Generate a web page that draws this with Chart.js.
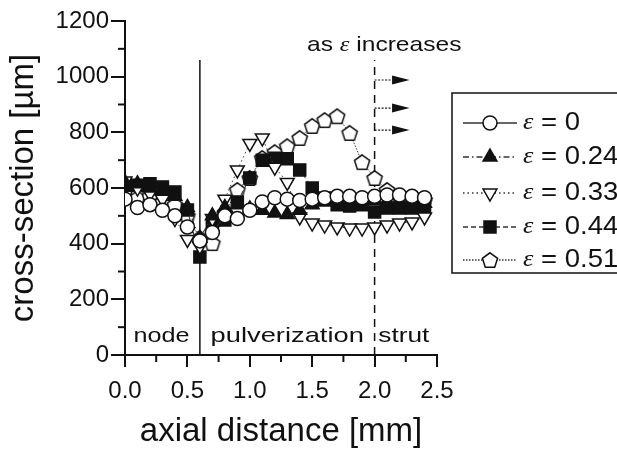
<!DOCTYPE html>
<html>
<head>
<meta charset="utf-8">
<script src="https://cdn.jsdelivr.net/npm/chart.js@4.4.0/dist/chart.umd.min.js"></script>
<style>
body { margin: 0; background: #fff; }
</style>
</head>
<body>
<canvas id="chart" width="617" height="452"></canvas>
<script>
// axial distance [mm]
var distance = [0.0, 0.1, 0.2, 0.3, 0.4, 0.5, 0.6, 0.7, 0.8, 0.9, 1.0, 1.1, 1.2,
                1.3, 1.4, 1.5, 1.6, 1.7, 1.8, 1.9, 2.0, 2.1, 2.2, 2.3, 2.4];

// cross-section [um] for each strain
var eps0    = [560, 530, 540, 520, 500, 460, 410, 440, 500, 490, 520, 550, 565,
               560, 555, 560, 565, 570, 570, 565, 570, 575, 575, 570, 565];
var eps024  = [620, 615, 600, 590, 570, 530, 420, 500, 530, 540, 525, 520, 510,
               505, 520, 540, 550, 555, 555, 560, 555, 550, 550, 555, 545];
var eps033  = [625, 600, 580, 560, 490, 415, 390, 490, 560, 665, 760, 780, 675,
               620, 496, 474, 467, 460, 456, 456, 460, 467, 474, 478, 496];
var eps044  = [610, 610, 615, 604, 586, 521, 352, 470, 485, 550, 636, 700, 707,
               705, 665, 600, 564, 540, 535, 540, 514, 528, 528, 528, 528];
var eps051  = [590, 565, 570, 550, 540, 500, 420, 402, 510, 593, 636, 708, 729,
               750, 780, 823, 844, 858, 798, 693, 636, 593, 568, 568, 557];

var strainLabels = ['0', '0.24', '0.33', '0.44', '0.51'];
var yTickStep = 200;
var xTickStep = 0.5;

var ink = '#111';
var sans = '"Liberation Sans", Arial, sans-serif';

function makePentagon(r) {
  var s = Math.ceil(r * 2 + 4);
  var c = document.createElement('canvas');
  c.width = s; c.height = s;
  var g = c.getContext('2d');
  g.beginPath();
  for (var i = 0; i < 5; i++) {
    var a = -Math.PI / 2 + i * 2 * Math.PI / 5;
    var px = s / 2 + r * Math.cos(a);
    var py = s / 2 + r * Math.sin(a) + r * 0.1;
    if (i === 0) g.moveTo(px, py); else g.lineTo(px, py);
  }
  g.closePath();
  g.fillStyle = '#fff';
  g.fill();
  g.lineWidth = 1.5;
  g.strokeStyle = ink;
  g.stroke();
  return c;
}
var pentagon = makePentagon(8);

function pts(ys) {
  return distance.map(function (x, i) { return { x: x, y: ys[i] }; });
}

function series(label, ys, style, fill, dash, radius, rot) {
  return {
    label: label,
    data: pts(ys),
    borderColor: '#333',
    borderWidth: 1,
    borderDash: dash,
    pointStyle: style,
    pointRadius: radius,
    pointRotation: rot || 0,
    pointBackgroundColor: fill,
    pointBorderColor: ink,
    pointBorderWidth: 1.5,
    tension: 0
  };
}

var datasets = [
  series(strainLabels[0], eps0, 'circle', '#fff', [], 7),
  series(strainLabels[1], eps024, 'triangle', ink, [6, 3, 1.5, 3], 8),
  series(strainLabels[2], eps033, 'triangle', '#fff', [1.5, 3], 8, 180),
  series(strainLabels[3], eps044, 'rect', ink, [5, 3], 8.5),
  series(strainLabels[4], eps051, pentagon, '#fff', [1.5, 1.5], 8)
];

// text drawn a little wider than the font, as in the scanned figure
function wideText(ctx, parts, x, y, sx, align) {
  ctx.save();
  ctx.translate(x, y);
  ctx.scale(sx, 1);
  ctx.textBaseline = 'middle';
  ctx.textAlign = 'left';
  var total = 0;
  parts.forEach(function (p) { ctx.font = p[1]; total += ctx.measureText(p[0]).width; });
  var cx = align === 'center' ? -total / 2 : 0;
  parts.forEach(function (p) {
    ctx.font = p[1];
    ctx.fillText(p[0], cx, 0);
    cx += ctx.measureText(p[0]).width;
  });
  ctx.restore();
}

var extras = {
  id: 'extras',
  beforeDatasetsDraw: function (chart) {
    var ctx = chart.ctx, xs = chart.scales.x, ys = chart.scales.y;
    ctx.save();
    ctx.strokeStyle = ink;
    // node / pulverization boundary
    ctx.lineWidth = 1.5;
    ctx.beginPath();
    ctx.moveTo(xs.getPixelForValue(0.6), ys.getPixelForValue(0));
    ctx.lineTo(xs.getPixelForValue(0.6), ys.getPixelForValue(1060));
    ctx.stroke();
    // pulverization / strut boundary
    ctx.setLineDash([8, 6]);
    ctx.beginPath();
    ctx.moveTo(xs.getPixelForValue(2.0), ys.getPixelForValue(0));
    ctx.lineTo(xs.getPixelForValue(2.0), ys.getPixelForValue(1060));
    ctx.stroke();
    // arrows
    [988, 887, 808].forEach(function (v) {
      var py = ys.getPixelForValue(v);
      var x0 = xs.getPixelForValue(2.0), x1 = xs.getPixelForValue(2.14), x2 = xs.getPixelForValue(2.28);
      ctx.setLineDash([2, 1.5]);
      ctx.lineWidth = 1.2;
      ctx.beginPath();
      ctx.moveTo(x0, py); ctx.lineTo(x1, py);
      ctx.stroke();
      ctx.setLineDash([]);
      ctx.fillStyle = ink;
      ctx.beginPath();
      ctx.moveTo(x1, py - 4.5); ctx.lineTo(x2, py); ctx.lineTo(x1, py + 4.5);
      ctx.closePath();
      ctx.fill();
    });
    // minor ticks
    ctx.setLineDash([]);
    ctx.lineWidth = 2;
    for (var v = 100; v < 1200; v += 200) {
      var py = ys.getPixelForValue(v);
      ctx.beginPath(); ctx.moveTo(xs.left - 7, py); ctx.lineTo(xs.left, py); ctx.stroke();
    }
    for (var u = 0.25; u < 2.5; u += 0.5) {
      var px = xs.getPixelForValue(u);
      ctx.beginPath(); ctx.moveTo(px, ys.bottom); ctx.lineTo(px, ys.bottom + 7); ctx.stroke();
    }
    ctx.restore();
  },
  afterDraw: function (chart) {
    var ctx = chart.ctx, xs = chart.scales.x, ys = chart.scales.y;
    ctx.save();
    ctx.fillStyle = ink;
    var f21 = '21px ' + sans;
    var by = ys.getPixelForValue(0) - 19;
    wideText(ctx, [['node', f21]], xs.getPixelForValue(0.3) - 1, by, 1.2, 'center');
    wideText(ctx, [['pulverization', f21]], xs.getPixelForValue(1.3), by, 1.3, 'center');
    wideText(ctx, [['strut', f21]], xs.getPixelForValue(2.25) - 2, by, 1.25, 'center');

    wideText(ctx, [['as ', f21], ['\u03b5', 'italic 21px "Liberation Serif", serif'], [' increases', f21]],
      307, 45, 1.17, 'left');

    // legend
    ctx.strokeStyle = ink;
    ctx.lineWidth = 1.5;
    ctx.strokeRect(452, 93, 200, 180);
    var rowY = [123, 157, 193, 227, 260];
    chart.data.datasets.forEach(function (ds, i) {
      var y = rowY[i];
      ctx.save();
      ctx.strokeStyle = '#333';
      ctx.lineWidth = 1.5;
      ctx.setLineDash(ds.borderDash);
      ctx.beginPath(); ctx.moveTo(463, y); ctx.lineTo(517, y); ctx.stroke();
      ctx.setLineDash([]);
      ctx.fillStyle = ds.pointBackgroundColor;
      ctx.strokeStyle = ds.pointBorderColor;
      ctx.lineWidth = ds.pointBorderWidth;
      Chart.helpers.drawPoint(ctx, {
        pointStyle: ds.pointStyle, radius: ds.pointRadius,
        rotation: ds.pointRotation, borderWidth: ds.pointBorderWidth
      }, 490, y);
      ctx.restore();
      ctx.fillStyle = ink;
      wideText(ctx, [['\u03b5', 'italic 24px "Liberation Serif", serif'], [' = ' + ds.label, '25px ' + sans]],
        523, y, 1.1, 'left');
    });
    ctx.restore();
  }
};

new Chart(document.getElementById('chart'), {
  type: 'line',
  data: { datasets: datasets },
  options: {
    responsive: false,
    animation: false,
    devicePixelRatio: 1,
    layout: { padding: { left: 0, right: 180, top: 21, bottom: 0 } },
    plugins: { legend: { display: false }, tooltip: { enabled: false } },
    scales: {
      x: {
        type: 'linear',
        min: 0, max: 2.5,
        ticks: {
          stepSize: xTickStep, color: ink, padding: 10,
          font: { size: 24, family: sans },
          callback: function (v) { return v.toFixed(1); }
        },
        grid: { drawOnChartArea: false, drawTicks: true, tickLength: 12, color: ink, lineWidth: 2 },
        border: { display: true, color: ink, width: 2 },
        title: {
          display: true, text: 'axial distance [mm]', color: ink,
          font: { size: 33, family: sans },
          padding: { top: 0, bottom: 0 }
        },
        afterFit: function (s) { s.height = 97; }
      },
      y: {
        min: 0, max: 1200,
        ticks: {
          stepSize: yTickStep, color: ink, padding: 2,
          font: { size: 24, family: sans },
          callback: function (v) { return String(v); }
        },
        grid: { drawOnChartArea: false, drawTicks: true, tickLength: 14, color: ink, lineWidth: 2 },
        border: { display: true, color: ink, width: 2 },
        title: {
          display: true, text: 'cross-section [\u00b5m]', color: ink,
          font: { size: 33, family: sans },
          padding: { top: 4, bottom: 0 }
        },
        afterFit: function (s) { s.width = 125; }
      }
    }
  },
  plugins: [extras]
});
</script>
</body>
</html>
